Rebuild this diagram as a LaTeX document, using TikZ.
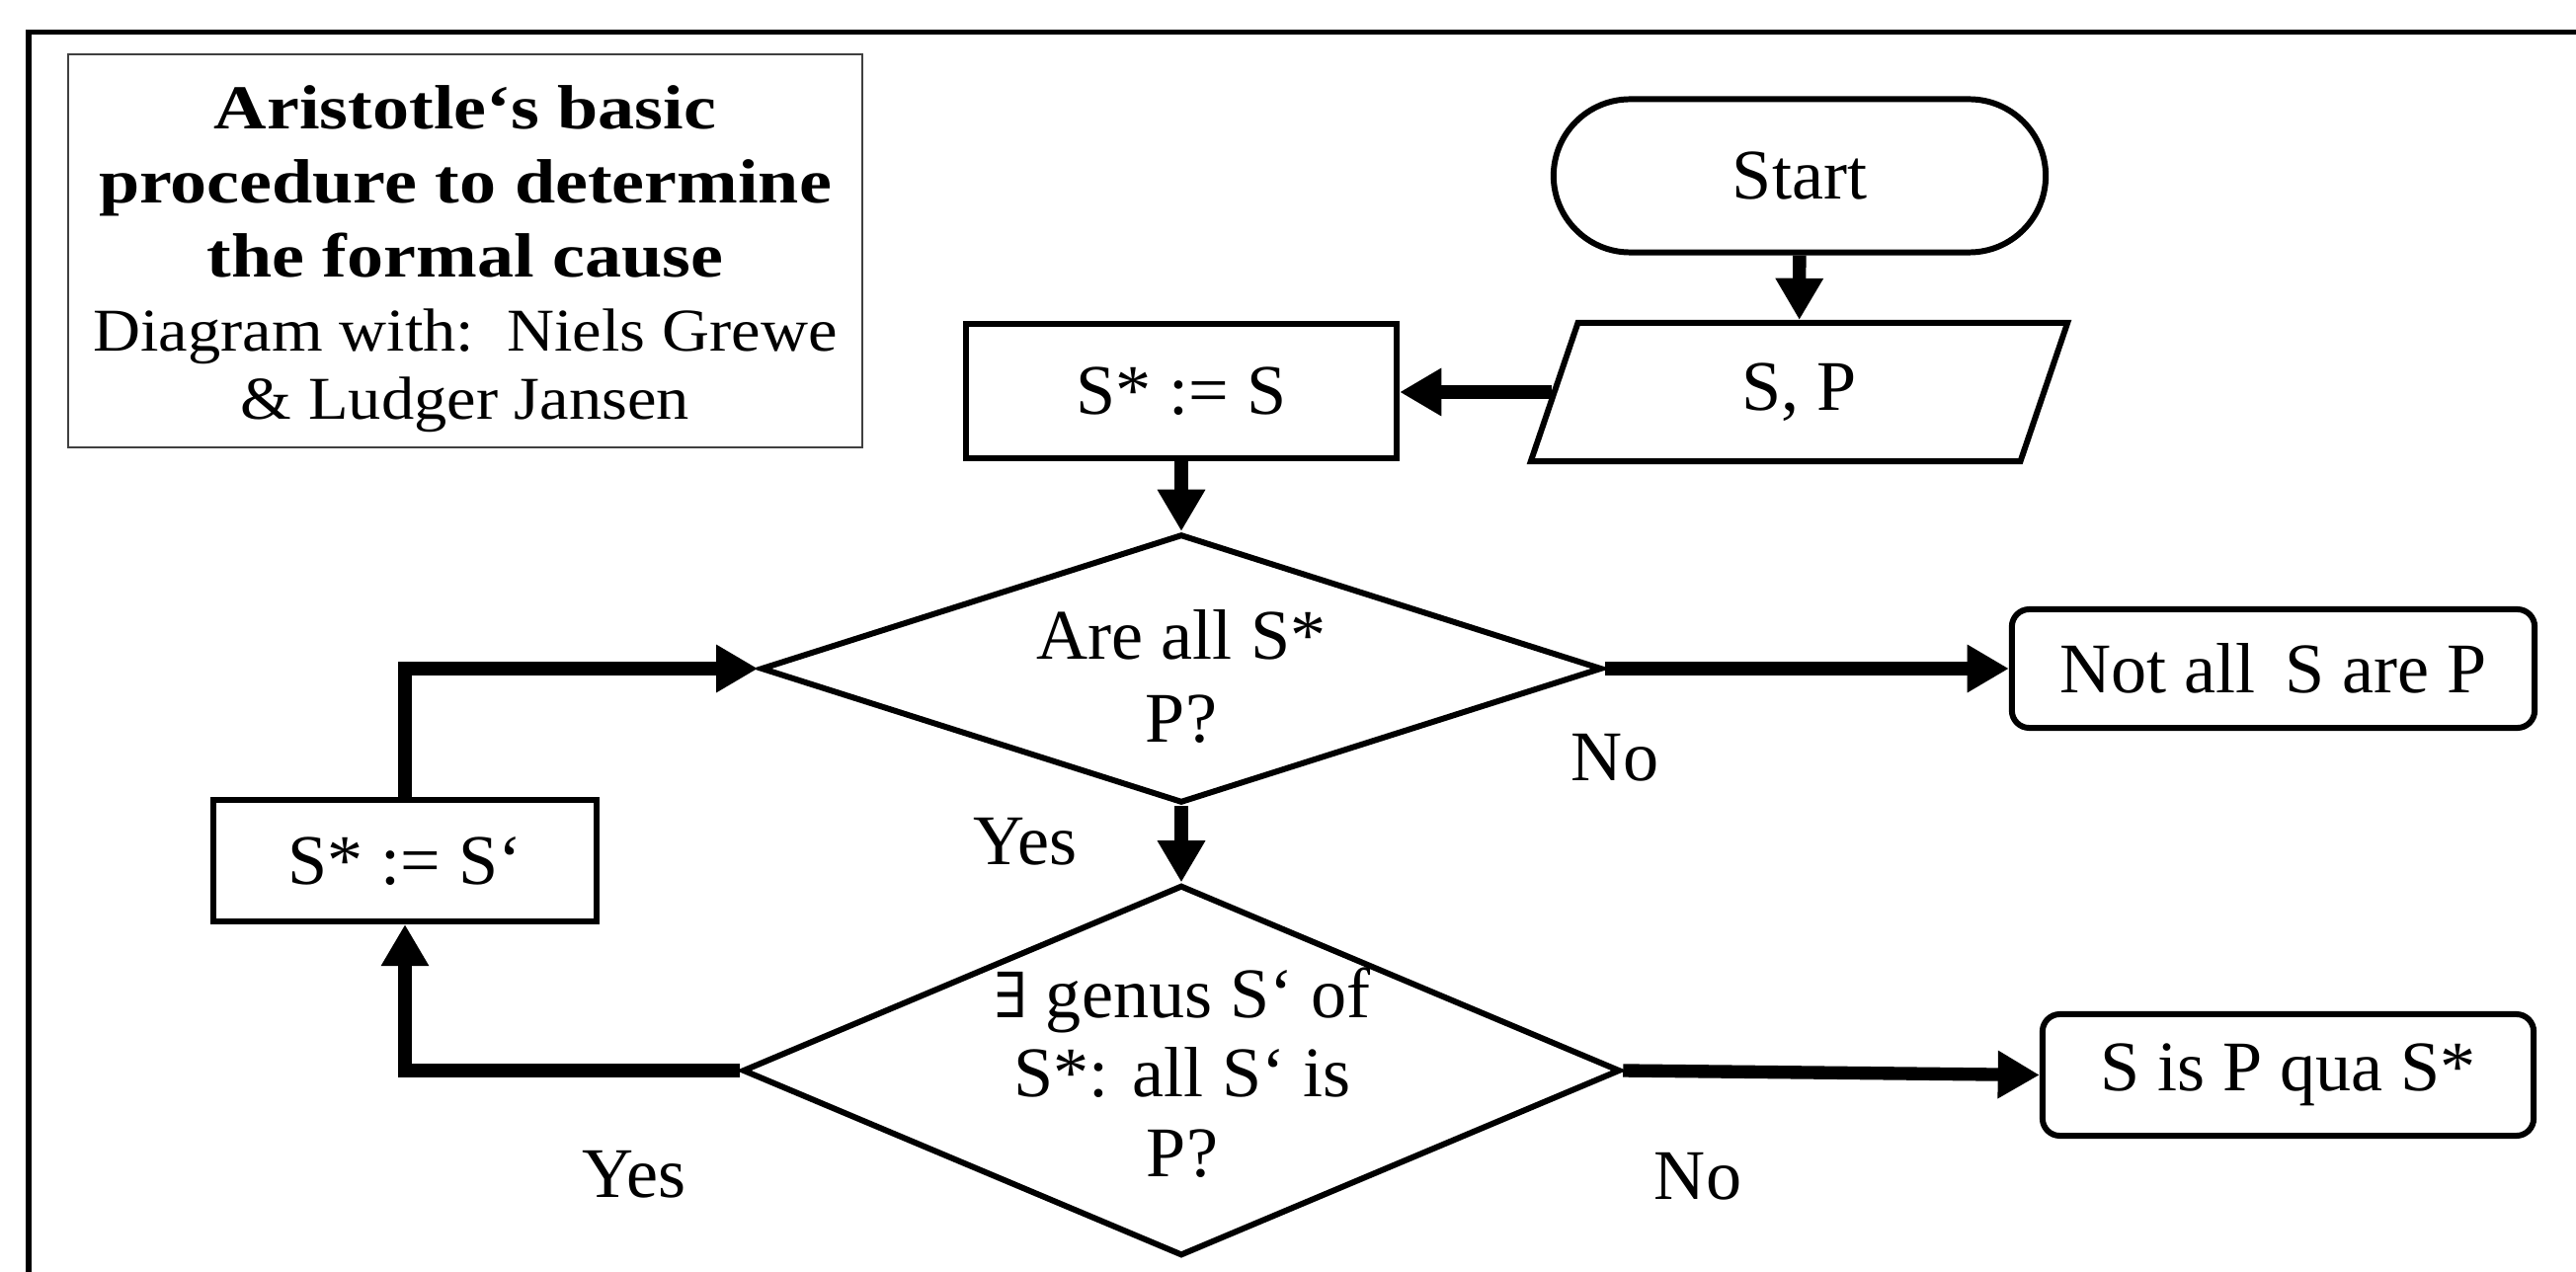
\documentclass[tikz,border=0pt]{standalone}
\usepackage{fontspec}
\setmainfont{Liberation Serif}
\newfontfamily\titleB{Liberation Serif}[FakeStretch=1.17]
\newfontfamily\titleR{Liberation Serif}[FakeStretch=1.08]
\newfontfamily\symfont{DejaVu Serif}
\usetikzlibrary{shapes.geometric,shapes.misc,arrows.meta}
\tikzset{
  body/.style={font=\fontsize{20.5}{24}\selectfont},
  shp/.style={draw, line width=1.7pt, inner sep=0pt, body},
  procbox/.style={shp, rectangle},
  endbox/.style={shp, rectangle, rounded corners=5pt},
  decision/.style={shp, diamond},
  dtext/.style={body, align=center, inner sep=0pt},
  lbl/.style={body, inner sep=0pt},
  arr/.style={line width=3.8pt, -{Triangle[length=12pt,width=13pt]}},
}
\begin{document}
\begin{tikzpicture}[x=0.01cm,y=-0.01cm]
\fill[white] (0,0) rectangle (2608,1288);
\useasboundingbox (0,0) rectangle (2608,1288);
\draw[line width=1.7pt] (29,1320) -- (29,32.5) -- (2640,32.5);

% title
\node[draw=black!75, line width=0.7pt, minimum width=8.04cm, minimum height=3.98cm, inner sep=0pt] (titlebox) at (471,254) {};
\node[align=center, inner sep=0pt, font=\fontsize{18}{21.3}\selectfont] (titletext) at (471,262)
  {{\titleB\bfseries Aristotle‘s basic}\\{\titleB\bfseries procedure to determine}\\{\titleB\bfseries the formal cause}\\{\fontsize{17.5}{21.3}\selectfont\titleR Diagram with:\ \ Niels Grewe}\\[-1.7pt]{\fontsize{17.5}{21.3}\selectfont\titleR \& Ludger Jansen}};

% nodes
\node[shp, rounded rectangle, minimum width=4.98cm, minimum height=1.55cm] (start) at (1822,178) {Start};
\node[shp, trapezium, trapezium left angle=51, trapezium right angle=129, trapezium stretches body=true,
      minimum width=5.43cm, minimum height=1.40cm] (sp) at (1821.5,397) {S, P};
\node[procbox, minimum width=4.36cm, minimum height=1.35cm] (sassign) at (1196,396) {S* := S};
\node[decision, minimum width=8.51cm, minimum height=2.72cm] (d1) at (1196,677) {};
\node[dtext, font=\fontsize{20.5}{23.9}\selectfont] (d1t) at (1196,685) {Are all S*\\P?};
\node[endbox, minimum width=5.29cm, minimum height=1.20cm] (notall) at (2301.5,677) {Not all\ \,S are P};
\node[decision, minimum width=8.88cm, minimum height=3.75cm] (d2) at (1196,1084) {};
\node[dtext, font=\fontsize{20.5}{22.8}\selectfont] (d2t) at (1197,1086) {{\symfont\fontsize{18}{22.8}\selectfont ∃} genus S‘ of\\S*: all S‘ is\\P?};
\node[procbox, minimum width=3.88cm, minimum height=1.23cm] (sprime) at (410,871.5) {S* := S‘};
\node[endbox, minimum width=4.97cm, minimum height=1.23cm] (sisp) at (2316.5,1088.5) {S is P qua S*};

% labels
\node[lbl] (no1) at (1635,767) {No};
\node[lbl] (yes1) at (1038,852) {Yes};
\node[lbl] (yes2) at (642,1189) {Yes};
\node[lbl] (no2) at (1719,1191) {No};

% connectors
\draw[arr] (start) -- (sp);
\draw[arr] (sp.west) -- (sp.west -| sassign.east);
\draw[arr] (sassign) -- (d1);
\draw[arr] (d1.east) -- (notall.west);
\draw[arr] (d1.south) -- (d2.north);
\draw[arr] (d2.east) -- (sisp.west);
\draw[arr] (d2.west) -| (sprime.south);
\draw[arr] (sprime.north) |- (d1.west);
\end{tikzpicture}
\end{document}
